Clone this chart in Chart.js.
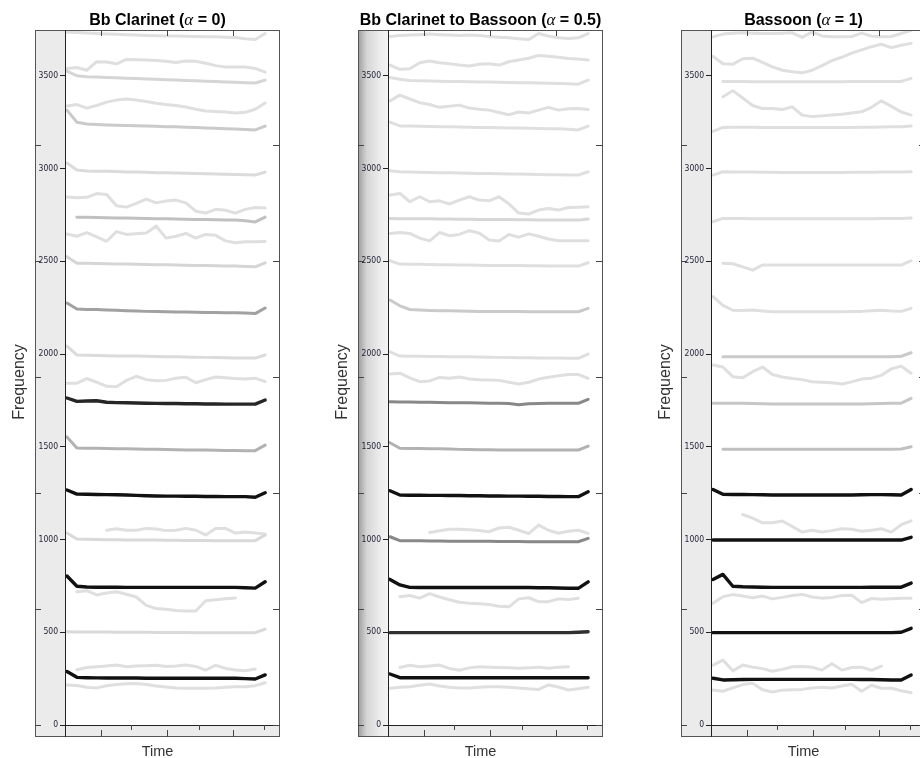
<!DOCTYPE html>
<html>
<head>
    <meta charset="utf-8" />
    <title>Clarinet to Bassoon - partial tracks</title>
    <script src="https://cdn.jsdelivr.net/npm/chart.js"></script>
    <style>
        html, body { margin: 0; padding: 0; background: #fff; overflow: hidden; }
        #page { position: relative; width: 920px; height: 758px; }
        .panel { position: absolute; top: 0; width: 300px; height: 758px; }
    </style>
</head>
<body>
<div id="page">
    <div class="panel" style="left:0px"><canvas id="clarinet" width="300" height="758"></canvas></div>
    <div class="panel" style="left:323px"><canvas id="morph" width="300" height="758"></canvas></div>
    <div class="panel" style="left:646px"><canvas id="bassoon" width="300" height="758"></canvas></div>
</div>

<script>
// frame index of every analysis step
const timeSteps = [0, 1, 2, 3, 4, 5, 6, 7, 8, 9, 10, 11, 12, 13, 14, 15, 16, 17, 18, 19, 20];
const freqTicks = [0, 500, 1000, 1500, 2000, 2500, 3000, 3500];
const boxTicks = [0, 625, 1250, 1875, 2500, 3125];
const timeTicksOuter = [3.4, 10.1, 16.8];
const timeTicksStrip = [6.5, 13.3, 19.9];
const freqMax = 3747;

// Bb Clarinet (alpha = 0): first frame of each track, frequencies, amplitude (0 faint .. 1 strong)
const clarinetStart = [0, 0, 0, 0, 0, 0, 0, 1, 0, 0, 0, 0, 0, 0, 0, 0, 4, 0, 0, 1, 0, 1, 0, 0];
const clarinetLevel = [0, 0, 0.05, 0, 0.1, 0.02, 0, 0.15, 0, 0.05, 0.3, 0.02, 0, 0.9, 0.22, 1, 0, 0.03, 1, 0, 0.03, 0, 1, 0];
const clarinetFreq = [
    [3735, 3733, 3731, 3728, 3726, 3724, 3722, 3720, 3718, 3716, 3715, 3714, 3713, 3712, 3711, 3710, 3708, 3706, 3700, 3696, 3728],
    [3540, 3545, 3530, 3576, 3574, 3565, 3588, 3587, 3585, 3582, 3578, 3572, 3580, 3578, 3568, 3555, 3547, 3547, 3547, 3540, 3520],
    [3525, 3500, 3495, 3493, 3491, 3489, 3487, 3485, 3483, 3481, 3479, 3477, 3475, 3473, 3471, 3469, 3467, 3465, 3463, 3461, 3477],
    [3337, 3345, 3326, 3340, 3358, 3369, 3375, 3370, 3362, 3352, 3345, 3340, 3332, 3320, 3310, 3308, 3305, 3300, 3303, 3320, 3353],
    [3315, 3250, 3240, 3237, 3235, 3234, 3232, 3231, 3230, 3228, 3226, 3225, 3223, 3221, 3219, 3217, 3215, 3213, 3211, 3208, 3229],
    [3030, 2992, 2987, 2986, 2985, 2984, 2982, 2981, 2980, 2978, 2977, 2976, 2975, 2974, 2972, 2970, 2969, 2968, 2966, 2965, 2981],
    [2846, 2842, 2845, 2865, 2860, 2800, 2792, 2812, 2835, 2815, 2825, 2830, 2815, 2770, 2760, 2780, 2775, 2760, 2780, 2790, 2787],
    [2738, 2737, 2736, 2735, 2734, 2733, 2732, 2731, 2730, 2729, 2728, 2727, 2726, 2725, 2724, 2723, 2722, 2718, 2712, 2738],
    [2647, 2635, 2655, 2632, 2608, 2660, 2645, 2648, 2652, 2690, 2625, 2635, 2650, 2625, 2645, 2640, 2610, 2600, 2605, 2605, 2607],
    [2525, 2490, 2489, 2488, 2487, 2486, 2485, 2484, 2483, 2482, 2481, 2480, 2479, 2478, 2477, 2476, 2475, 2474, 2472, 2470, 2492],
    [2275, 2243, 2240, 2240, 2238, 2236, 2234, 2232, 2230, 2229, 2228, 2227, 2226, 2225, 2224, 2224, 2223, 2222, 2221, 2218, 2248],
    [2043, 1995, 1993, 1992, 1991, 1990, 1990, 1989, 1988, 1987, 1986, 1985, 1984, 1983, 1982, 1981, 1980, 1979, 1978, 1978, 1995],
    [1843, 1843, 1868, 1848, 1826, 1824, 1858, 1880, 1862, 1856, 1858, 1870, 1875, 1845, 1862, 1876, 1872, 1868, 1866, 1870, 1851],
    [1763, 1745, 1747, 1748, 1740, 1738, 1737, 1736, 1735, 1734, 1733, 1733, 1732, 1732, 1731, 1731, 1730, 1730, 1730, 1730, 1752],
    [1553, 1493, 1492, 1492, 1491, 1490, 1489, 1488, 1487, 1486, 1485, 1484, 1483, 1482, 1482, 1481, 1480, 1480, 1479, 1479, 1509],
    [1267, 1245, 1244, 1243, 1242, 1241, 1240, 1238, 1236, 1235, 1234, 1234, 1233, 1233, 1232, 1232, 1231, 1231, 1231, 1228, 1252],
    [1050, 1058, 1050, 1050, 1060, 1057, 1048, 1050, 1060, 1050, 1025, 1060, 1060, 1035, 1040, 1035, 1030],
    [1035, 1003, 1001, 1000, 999, 999, 998, 998, 997, 997, 996, 996, 995, 995, 995, 994, 994, 994, 994, 994, 1024],
    [803, 748, 744, 743, 743, 743, 742, 742, 742, 742, 742, 742, 742, 742, 742, 742, 742, 742, 740, 738, 772],
    [718, 724, 701, 712, 718, 705, 690, 645, 628, 624, 617, 614, 615, 670, 675, 681, 685],
    [503, 502, 502, 501, 501, 500, 500, 500, 500, 499, 499, 499, 499, 498, 498, 498, 498, 498, 498, 498, 517],
    [298, 310, 314, 318, 323, 314, 318, 320, 322, 316, 318, 323, 316, 296, 322, 305, 296, 293, 302],
    [288, 257, 255, 254, 253, 253, 253, 253, 252, 252, 252, 252, 252, 252, 252, 252, 252, 252, 250, 248, 270],
    [216, 213, 204, 200, 212, 218, 222, 224, 218, 210, 205, 200, 198, 198, 198, 200, 204, 206, 206, 212, 228]
];

// Bb Clarinet to Bassoon (alpha = 0.5)
const morphStart = [0, 0, 0, 0, 0, 0, 0, 0, 0, 0, 0, 0, 0, 0, 0, 0, 4, 0, 0, 1, 0, 1, 0, 0];
const morphLevel = [0, 0, 0, 0, 0, 0, 0, 0.04, 0, 0, 0.1, 0, 0, 0.42, 0.22, 1, 0, 0.42, 1, 0, 0.85, 0, 1, 0];
const morphFreq = [
    [3712, 3718, 3720, 3722, 3725, 3722, 3720, 3718, 3720, 3718, 3712, 3708, 3705, 3700, 3696, 3728, 3714, 3705, 3701, 3705, 3728],
    [3558, 3535, 3538, 3570, 3580, 3570, 3565, 3558, 3553, 3562, 3565, 3558, 3576, 3585, 3595, 3610, 3605, 3600, 3593, 3590, 3585],
    [3491, 3482, 3475, 3473, 3472, 3471, 3470, 3469, 3468, 3467, 3466, 3465, 3464, 3463, 3462, 3461, 3460, 3459, 3457, 3455, 3477],
    [3365, 3396, 3375, 3355, 3345, 3330, 3336, 3342, 3326, 3320, 3315, 3302, 3290, 3305, 3300, 3315, 3330, 3315, 3322, 3324, 3319],
    [3250, 3230, 3229, 3228, 3227, 3226, 3225, 3224, 3223, 3222, 3221, 3220, 3219, 3218, 3217, 3216, 3215, 3214, 3212, 3208, 3229],
    [2988, 2983, 2981, 2980, 2979, 2978, 2977, 2976, 2975, 2974, 2973, 2972, 2971, 2970, 2969, 2968, 2967, 2966, 2965, 2965, 2983],
    [2857, 2866, 2821, 2848, 2821, 2826, 2809, 2830, 2848, 2830, 2826, 2848, 2810, 2760, 2755, 2776, 2785, 2776, 2790, 2792, 2794],
    [2731, 2730, 2730, 2729, 2729, 2728, 2728, 2727, 2727, 2726, 2726, 2725, 2725, 2724, 2724, 2723, 2723, 2722, 2722, 2722, 2728],
    [2650, 2655, 2650, 2625, 2610, 2655, 2638, 2645, 2665, 2652, 2615, 2610, 2645, 2630, 2648, 2635, 2620, 2611, 2611, 2611, 2611],
    [2503, 2485, 2484, 2484, 2483, 2482, 2481, 2480, 2480, 2479, 2478, 2478, 2477, 2477, 2476, 2476, 2475, 2475, 2474, 2474, 2492],
    [2291, 2260, 2240, 2237, 2235, 2234, 2233, 2232, 2231, 2230, 2230, 2229, 2229, 2229, 2228, 2228, 2228, 2228, 2228, 2228, 2246],
    [2012, 1989, 1988, 1988, 1987, 1987, 1986, 1986, 1985, 1984, 1983, 1982, 1981, 1980, 1980, 1979, 1978, 1978, 1977, 1977, 2000],
    [1892, 1897, 1872, 1851, 1855, 1874, 1870, 1876, 1866, 1862, 1860, 1858, 1848, 1838, 1848, 1865, 1875, 1883, 1890, 1890, 1869],
    [1743, 1742, 1741, 1740, 1740, 1739, 1738, 1738, 1737, 1736, 1735, 1734, 1733, 1726, 1732, 1733, 1734, 1734, 1734, 1734, 1756],
    [1522, 1492, 1491, 1491, 1490, 1490, 1488, 1486, 1485, 1484, 1484, 1483, 1483, 1483, 1482, 1482, 1482, 1482, 1482, 1482, 1504],
    [1263, 1240, 1239, 1239, 1238, 1238, 1237, 1237, 1236, 1236, 1235, 1235, 1234, 1234, 1233, 1233, 1232, 1232, 1231, 1231, 1258],
    [1038, 1047, 1055, 1055, 1053, 1048, 1042, 1062, 1066, 1050, 1032, 1078, 1050, 1034, 1045, 1050, 1033],
    [1015, 994, 993, 993, 992, 992, 991, 991, 990, 990, 990, 989, 989, 989, 988, 988, 988, 988, 988, 988, 1006],
    [785, 755, 742, 741, 741, 741, 741, 741, 741, 741, 741, 741, 741, 741, 741, 740, 740, 739, 737, 737, 772],
    [692, 698, 684, 708, 690, 675, 662, 657, 654, 650, 640, 637, 680, 686, 665, 665, 680, 676, 683],
    [498, 498, 498, 498, 498, 498, 498, 498, 498, 498, 498, 498, 498, 498, 498, 498, 498, 498, 498, 500, 503],
    [310, 322, 314, 318, 323, 305, 295, 308, 314, 312, 310, 308, 306, 308, 312, 306, 312, 314],
    [275, 255, 255, 255, 255, 255, 255, 255, 255, 255, 255, 255, 255, 255, 255, 255, 255, 255, 255, 255, 255],
    [198, 203, 206, 214, 221, 210, 203, 200, 200, 203, 206, 206, 203, 200, 195, 192, 216, 205, 189, 196, 203]
];

// Bassoon (alpha = 1)
const bassoonStart = [0, 0, 1, 1, 0, 0, 0, 1, 0, 1, 0, 0, 1, 0, 3, 0, 0, 0, 0, 0, 0, 0];
const bassoonLevel = [0, 0, 0, 0, 0, 0, 0, 0, 0, 0.1, 0, 0.12, 0.15, 1, 0, 1, 1, 0, 1, 0, 1, 0];
const bassoonFreq = [
    [3710, 3725, 3730, 3732, 3730, 3728, 3728, 3730, 3732, 3707, 3737, 3715, 3710, 3710, 3712, 3730, 3714, 3710, 3712, 3728, 3745],
    [3605, 3565, 3562, 3592, 3595, 3572, 3548, 3530, 3522, 3516, 3530, 3555, 3582, 3600, 3622, 3640, 3657, 3670, 3652, 3665, 3675],
    [3470, 3469, 3469, 3468, 3468, 3468, 3468, 3468, 3468, 3468, 3468, 3468, 3468, 3469, 3469, 3470, 3470, 3470, 3470, 3486],
    [3387, 3420, 3380, 3340, 3324, 3324, 3318, 3333, 3288, 3280, 3284, 3289, 3293, 3300, 3306, 3330, 3365, 3335, 3305, 3288],
    [3200, 3222, 3223, 3223, 3223, 3222, 3222, 3222, 3222, 3222, 3222, 3222, 3222, 3222, 3222, 3223, 3223, 3224, 3225, 3226, 3229],
    [2965, 2983, 2982, 2982, 2981, 2980, 2980, 2979, 2979, 2979, 2979, 2979, 2979, 2979, 2980, 2980, 2980, 2981, 2981, 2981, 2983],
    [2713, 2731, 2731, 2731, 2730, 2730, 2730, 2729, 2729, 2729, 2729, 2729, 2729, 2729, 2730, 2730, 2730, 2731, 2731, 2731, 2733],
    [2489, 2487, 2470, 2452, 2480, 2480, 2480, 2480, 2480, 2480, 2480, 2480, 2480, 2480, 2480, 2480, 2480, 2480, 2480, 2503],
    [2310, 2262, 2236, 2235, 2237, 2232, 2228, 2228, 2228, 2228, 2228, 2228, 2228, 2228, 2229, 2230, 2234, 2236, 2232, 2230, 2246],
    [1985, 1985, 1985, 1985, 1985, 1985, 1985, 1985, 1985, 1985, 1985, 1985, 1985, 1985, 1985, 1985, 1985, 1986, 1988, 2007],
    [1941, 1930, 1878, 1872, 1905, 1930, 1890, 1876, 1868, 1862, 1851, 1848, 1845, 1838, 1850, 1865, 1870, 1885, 1920, 1935, 1896],
    [1734, 1734, 1734, 1734, 1733, 1732, 1731, 1730, 1730, 1730, 1730, 1730, 1730, 1730, 1730, 1731, 1732, 1733, 1734, 1735, 1761],
    [1486, 1486, 1486, 1486, 1486, 1486, 1486, 1486, 1486, 1486, 1486, 1486, 1486, 1486, 1486, 1486, 1486, 1487, 1488, 1500],
    [1270, 1244, 1243, 1243, 1242, 1241, 1240, 1240, 1240, 1240, 1240, 1240, 1240, 1240, 1240, 1241, 1242, 1242, 1241, 1240, 1270],
    [1135, 1115, 1090, 1090, 1100, 1070, 1040, 1050, 1040, 1048, 1058, 1055, 1045, 1050, 1058, 1040, 1080, 1101],
    [997, 997, 997, 997, 997, 997, 997, 997, 997, 997, 997, 997, 997, 997, 997, 997, 997, 997, 997, 997, 1012],
    [785, 812, 748, 745, 744, 743, 742, 742, 742, 742, 742, 742, 742, 742, 742, 742, 743, 743, 743, 743, 765],
    [656, 692, 703, 695, 686, 695, 680, 688, 698, 704, 690, 684, 688, 698, 700, 660, 682, 678, 680, 683, 683],
    [498, 498, 498, 498, 498, 498, 498, 498, 498, 498, 498, 498, 498, 498, 498, 498, 498, 498, 498, 500, 521],
    [323, 350, 292, 323, 312, 304, 290, 300, 314, 316, 312, 296, 330, 296, 310, 312, 295, 318],
    [252, 243, 244, 245, 246, 246, 246, 246, 246, 246, 246, 246, 246, 246, 246, 245, 245, 244, 243, 243, 270],
    [189, 182, 200, 218, 225, 190, 178, 188, 190, 192, 200, 204, 200, 210, 220, 182, 214, 198, 198, 185, 174]
];

// amplitude -> grey level (faint tracks light grey, strong tracks near black)
function shade(level) {
    const g = Math.round(223 - 206 * level);
    return 'rgb(' + g + ',' + g + ',' + g + ')';
}

function buildTracks(freq, start, level) {
    return freq.map(function (vals, i) {
        return {
            data: vals.map(function (f, k) { return { x: timeSteps[start[i] + k], y: f }; }),
            borderColor: shade(level[i]),
            borderWidth: level[i] > 0.7 ? 3.4 : 3,
            order: Math.round((1 - level[i]) * 100),
            pointRadius: 0,
            tension: 0,
            borderJoinStyle: 'round',
            borderCapStyle: 'round',
            fill: false
        };
    });
}

// lattice style frame: grey strips, box ticks and the titles
const framePlugin = {
    id: 'frame',
    beforeDraw: function (chart, args, opts) {
        const ctx = chart.ctx, a = chart.chartArea;
        const left = a.left - 30;
        ctx.save();
        if (opts.shaded) {
            const g = ctx.createLinearGradient(left, 0, a.left, 0);
            g.addColorStop(0, '#9c9c9c');
            g.addColorStop(0.3, '#d6d6d6');
            g.addColorStop(0.7, '#ebebeb');
            g.addColorStop(1, '#f3f3f3');
            ctx.fillStyle = g;
        } else {
            ctx.fillStyle = '#ebebeb';
        }
        ctx.fillRect(left, a.top, 30, a.bottom + 12 - a.top);
        ctx.fillStyle = '#ebebeb';
        ctx.fillRect(a.left, a.bottom, a.right - a.left, 12);
        ctx.restore();
    },
    afterDraw: function (chart, args, opts) {
        const ctx = chart.ctx, a = chart.chartArea;
        const xs = chart.scales.x, ys = chart.scales.y;
        const left = a.left - 30, bottom = a.bottom + 12;
        ctx.save();
        ctx.lineWidth = 1;
        ctx.strokeStyle = '#555';
        ctx.strokeRect(left + 0.5, a.top + 0.5, a.right - left - 1, bottom - a.top - 1);
        ctx.strokeStyle = '#222';
        ctx.beginPath();
        ctx.moveTo(a.left + 0.5, a.top);
        ctx.lineTo(a.left + 0.5, bottom);
        ctx.moveTo(a.left, a.bottom + 0.5);
        ctx.lineTo(a.right, a.bottom + 0.5);
        ctx.stroke();

        ctx.strokeStyle = '#444';
        ctx.beginPath();
        boxTicks.forEach(function (v) {
            const y = Math.round(ys.getPixelForValue(v)) + 0.5;
            ctx.moveTo(left, y); ctx.lineTo(left + 6, y);
            ctx.moveTo(a.right - 7, y); ctx.lineTo(a.right, y);
        });
        timeTicksOuter.forEach(function (t) {
            const x = Math.round(xs.getPixelForValue(t)) + 0.5;
            ctx.moveTo(x, a.top); ctx.lineTo(x, a.top + 6);
            ctx.moveTo(x, bottom); ctx.lineTo(x, bottom - 7);
        });
        timeTicksStrip.forEach(function (t) {
            const x = Math.round(xs.getPixelForValue(t)) + 0.5;
            ctx.moveTo(x, a.bottom); ctx.lineTo(x, a.bottom + 5);
        });
        ctx.stroke();

        // title: sans-serif words with an italic serif alpha
        const boldFont = 'bold 16px "Liberation Sans", Arial, sans-serif';
        const alphaFont = 'italic 17px "Liberation Serif", "DejaVu Serif", serif';
        ctx.fillStyle = '#000';
        ctx.textBaseline = 'alphabetic';
        ctx.textAlign = 'left';
        ctx.font = boldFont;
        const w1 = ctx.measureText(opts.title[0]).width;
        const w3 = ctx.measureText(opts.title[1]).width;
        ctx.font = alphaFont;
        const w2 = ctx.measureText('\u03b1').width;
        let x0 = (left + a.right) / 2 - (w1 + w2 + w3) / 2;
        ctx.font = boldFont;
        ctx.fillText(opts.title[0], x0, 24.5);
        ctx.font = alphaFont;
        ctx.fillText('\u03b1', x0 + w1, 24.5);
        ctx.font = boldFont;
        ctx.fillText(opts.title[1], x0 + w1 + w2, 24.5);

        ctx.textAlign = 'center';
        ctx.fillStyle = '#333';
        ctx.font = '14.5px "Liberation Sans", Arial, sans-serif';
        ctx.fillText('Time', (left + a.right) / 2, 756);

        ctx.translate(left - 11, 382);
        ctx.rotate(-Math.PI / 2);
        ctx.font = '16px "Liberation Sans", Arial, sans-serif';
        ctx.fillText('Frequency', 0, 0);
        ctx.restore();
    }
};

function makePanel(id, title, shaded, freq, start, level) {
    return new Chart(document.getElementById(id), {
        type: 'line',
        data: { datasets: buildTracks(freq, start, level) },
        plugins: [framePlugin],
        options: {
            responsive: false,
            animation: false,
            events: [],
            layout: { padding: { left: 35, top: 30, right: 20, bottom: 33 } },
            plugins: {
                legend: { display: false },
                tooltip: { enabled: false },
                frame: { title: title, shaded: shaded }
            },
            scales: {
                x: { type: 'linear', min: -0.2, max: 21.5, display: false },
                y: {
                    type: 'linear',
                    position: 'left',
                    min: 0,
                    max: freqMax,
                    afterFit: function (s) { s.width = 30; },
                    afterBuildTicks: function (s) {
                        s.ticks = freqTicks.map(function (v) { return { value: v }; });
                    },
                    ticks: {
                        autoSkip: false,
                        padding: 2,
                        color: '#1d1d35',
                        font: { family: '"Liberation Sans Narrow", "DejaVu Sans Condensed", sans-serif', size: 8.5 },
                        callback: function (v) { return String(v); }
                    },
                    grid: { drawOnChartArea: false, tickLength: 5, color: '#222' },
                    border: { color: '#000' }
                }
            }
        }
    });
}

makePanel('clarinet', ['Bb Clarinet (', ' = 0)'], false, clarinetFreq, clarinetStart, clarinetLevel);
makePanel('morph', ['Bb Clarinet to Bassoon (', ' = 0.5)'], true, morphFreq, morphStart, morphLevel);
makePanel('bassoon', ['Bassoon (', ' = 1)'], false, bassoonFreq, bassoonStart, bassoonLevel);
</script>
</body>
</html>
